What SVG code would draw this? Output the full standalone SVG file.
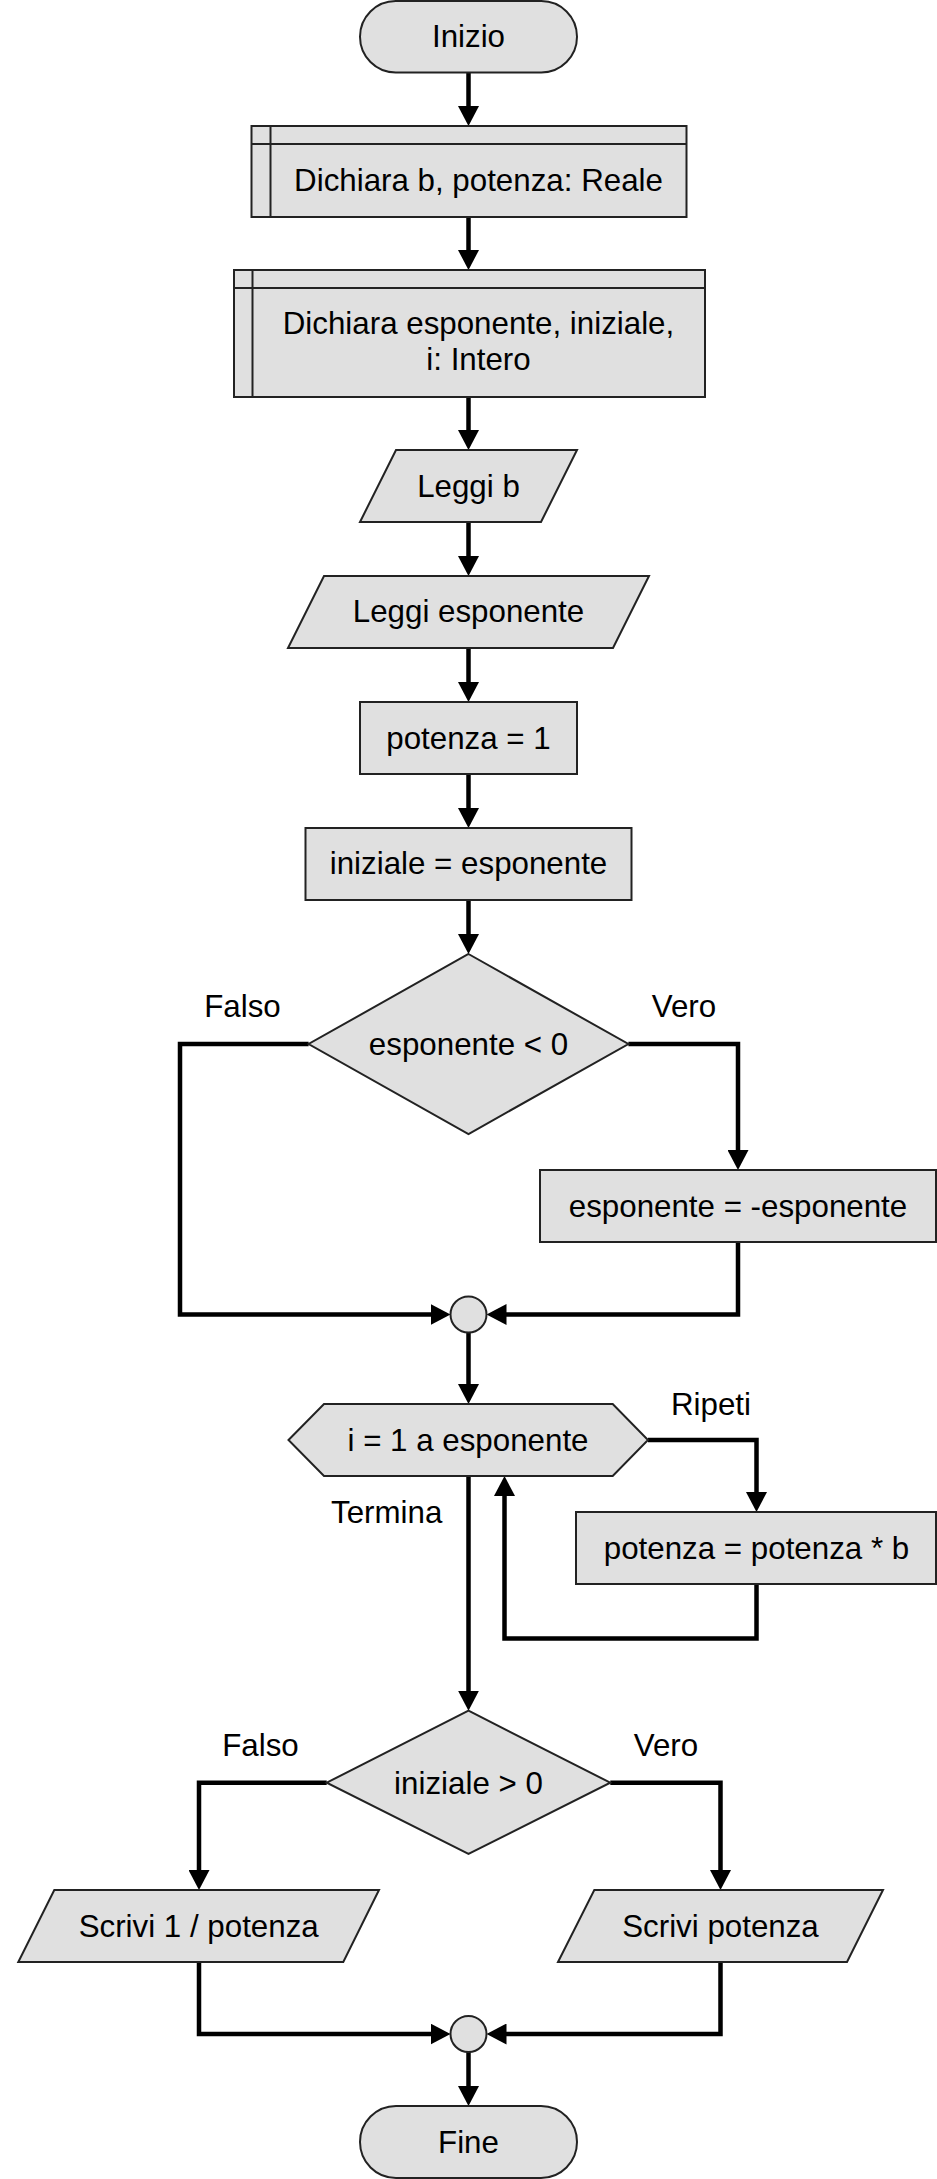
<svg xmlns="http://www.w3.org/2000/svg" width="937" height="2179" viewBox="0 0 937 2179">
<defs>
<style>
.n{fill:#e0e0e0;stroke:#222;stroke-width:2}
.t{font-family:"Liberation Sans",Arial,sans-serif;font-size:31.3px;fill:#000;text-anchor:middle}
.e{fill:none;stroke:#000;stroke-width:4.5;marker-end:url(#ah)}
</style>
<marker id="ah" markerUnits="userSpaceOnUse" markerWidth="20" markerHeight="21" refX="10" refY="10.5" orient="auto" viewBox="0 0 20 21">
<path d="M0,0 L20,10.5 L0,21 Z" fill="#000"/>
</marker>
</defs>
<rect width="937" height="2179" fill="#fff"/>
<g id="connectors">
<path class="e" d="M468.5,72 V116"/>
<path class="e" d="M468.5,217 V260"/>
<path class="e" d="M468.5,397 V440"/>
<path class="e" d="M468.5,522 V566"/>
<path class="e" d="M468.5,648 V692"/>
<path class="e" d="M468.5,774 V818"/>
<path class="e" d="M468.5,900 V944"/>
<path class="e" d="M308.6,1044 H180 V1314.5 H440.5"/>
<path class="e" d="M628.4,1044 H738 V1160"/>
<path class="e" d="M738,1242 V1314.5 H496.5"/>
<path class="e" d="M468.5,1333 V1394"/>
<path class="e" d="M648,1440 H756.5 V1502"/>
<path class="e" d="M756.5,1584 V1638.5 H504.5 V1486"/>
<path class="e" d="M468.5,1476 V1700.7"/>
<path class="e" d="M326.7,1782.7 H199 V1880"/>
<path class="e" d="M610.3,1782.7 H720.5 V1880"/>
<path class="e" d="M199,1962 V2034 H440.5"/>
<path class="e" d="M720.5,1962 V2034 H496.5"/>
<path class="e" d="M468.5,2052 V2096"/>
</g>
<g id="inizio">
<rect class="n" x="360" y="1" width="217" height="71.5" rx="35.7"/>
<text class="t" x="468.5" y="47">Inizio</text>
</g>
<g id="dichiara-b">
<rect class="n" x="251.5" y="126" width="435" height="91"/>
<path d="M270.5,126 V217 M251.5,144 H686.5" fill="none" stroke="#222" stroke-width="2"/>
<text class="t" x="478.5" y="191">Dichiara b, potenza: Reale</text>
</g>
<g id="dichiara-esponente">
<rect class="n" x="234" y="270" width="471" height="127"/>
<path d="M252.5,270 V397 M234,288 H705" fill="none" stroke="#222" stroke-width="2"/>
<text class="t" x="478.5" y="334">Dichiara esponente, iniziale,</text>
<text class="t" x="478.5" y="370">i: Intero</text>
</g>
<g id="leggi-b">
<path class="n" d="M396,450 H577 L541,522 H360 Z"/>
<text class="t" x="468.5" y="497">Leggi b</text>
</g>
<g id="leggi-esponente">
<path class="n" d="M324,576 H649 L613,648 H288 Z"/>
<text class="t" x="468.5" y="622">Leggi esponente</text>
</g>
<g id="potenza-1">
<rect class="n" x="360" y="702" width="217" height="72"/>
<text class="t" x="468.5" y="748.5">potenza = 1</text>
</g>
<g id="iniziale-esponente">
<rect class="n" x="305.5" y="828" width="326" height="72"/>
<text class="t" x="468.5" y="874">iniziale = esponente</text>
</g>
<g id="cond-esponente">
<path class="n" d="M468.5,954 L628.4,1044 L468.5,1134 L308.6,1044 Z"/>
<text class="t" x="468.5" y="1054.5">esponente &lt; 0</text>
<text class="t" x="242.5" y="1017">Falso</text>
<text class="t" x="684" y="1017">Vero</text>
</g>
<g id="neg-esponente">
<rect class="n" x="540" y="1170" width="396" height="72"/>
<text class="t" x="738" y="1216.5">esponente = -esponente</text>
</g>
<g id="join1">
<circle class="n" cx="468.5" cy="1314.5" r="18"/>
</g>
<g id="loop">
<path class="n" d="M288.5,1440 L324,1404 H612.7 L648,1440 L612.7,1476 H324 Z"/>
<text class="t" x="468" y="1451">i = 1 a esponente</text>
<text class="t" x="711" y="1415">Ripeti</text>
<text class="t" x="386.7" y="1522.7">Termina</text>
</g>
<g id="moltiplica">
<rect class="n" x="576" y="1512" width="360" height="72"/>
<text class="t" x="756.5" y="1558.5">potenza = potenza * b</text>
</g>
<g id="cond-iniziale">
<path class="n" d="M468.5,1710.7 L610.3,1782.7 L468.5,1854 L326.7,1782.7 Z"/>
<text class="t" x="468.5" y="1793.5">iniziale &gt; 0</text>
<text class="t" x="260.5" y="1756">Falso</text>
<text class="t" x="666" y="1756">Vero</text>
</g>
<g id="scrivi-inverso">
<path class="n" d="M54.3,1890 H379 L343.3,1962 H18.3 Z"/>
<text class="t" x="198.7" y="1937">Scrivi 1 / potenza</text>
</g>
<g id="scrivi-potenza">
<path class="n" d="M594.3,1890 H883 L847,1962 H558 Z"/>
<text class="t" x="720.5" y="1937">Scrivi potenza</text>
</g>
<g id="join2">
<circle class="n" cx="468.5" cy="2034" r="18"/>
</g>
<g id="fine">
<rect class="n" x="360" y="2106" width="217" height="72" rx="36"/>
<text class="t" x="468.5" y="2153">Fine</text>
</g>
</svg>
